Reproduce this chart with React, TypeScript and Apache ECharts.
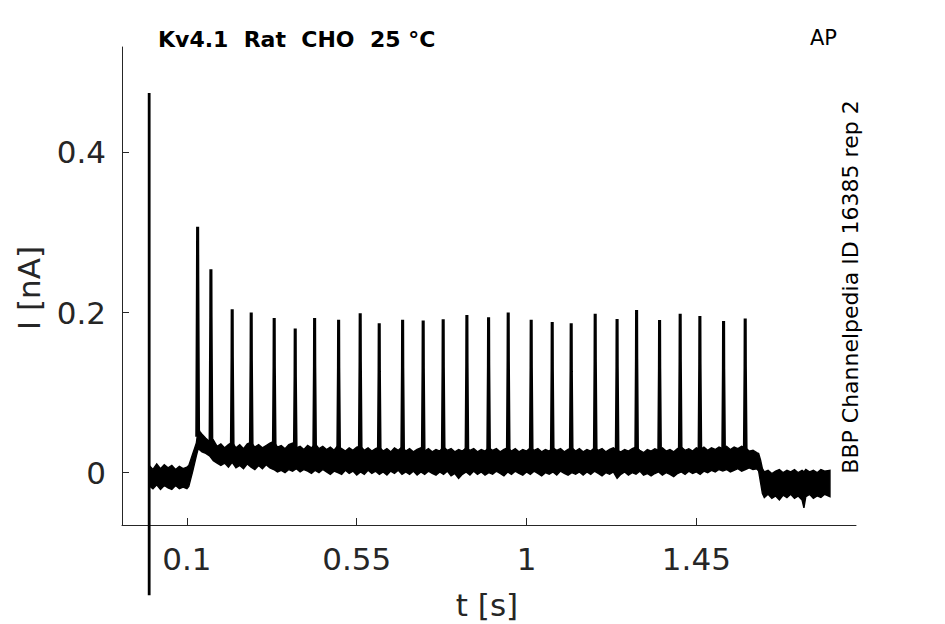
import React, { useEffect, useRef } from "react";
import * as echarts from "echarts";

// Tick positions / labels
const xTicks = [0.1, 0.55, 1, 1.45];
const yTicks = [0, 0.2, 0.4];

// Noise band envelope of the current trace (time in s, current in nA)
const envT = [
  0.002, 0.01, 0.02, 0.03, 0.04, 0.05, 0.06, 0.07, 0.08, 0.09, 0.1,
  0.105, 0.11, 0.115, 0.12, 0.125, 0.13, 0.135, 0.14, 0.15, 0.16, 0.17, 0.18, 0.19, 0.2,
  0.21, 0.22, 0.23, 0.24, 0.25, 0.26, 0.27, 0.28, 0.29, 0.3,
  0.31, 0.32, 0.33, 0.34, 0.35, 0.36, 0.37, 0.38, 0.39, 0.4,
  0.41, 0.42, 0.43, 0.44, 0.45, 0.46, 0.47, 0.48, 0.49, 0.5,
  0.51, 0.52, 0.53, 0.54, 0.55, 0.56, 0.57, 0.58, 0.59, 0.6,
  0.61, 0.62, 0.63, 0.64, 0.65, 0.66, 0.67, 0.68, 0.69, 0.7,
  0.71, 0.72, 0.73, 0.74, 0.75, 0.76, 0.77, 0.78, 0.79, 0.8,
  0.81, 0.82, 0.83, 0.84, 0.85, 0.86, 0.87, 0.88, 0.89, 0.9,
  0.91, 0.92, 0.93, 0.94, 0.95, 0.96, 0.97, 0.98, 0.99, 1.0,
  1.01, 1.02, 1.03, 1.04, 1.05, 1.06, 1.07, 1.08, 1.09, 1.1,
  1.11, 1.12, 1.13, 1.14, 1.15, 1.16, 1.17, 1.18, 1.19, 1.2,
  1.21, 1.22, 1.23, 1.24, 1.25, 1.26, 1.27, 1.28, 1.29, 1.3,
  1.31, 1.32, 1.33, 1.34, 1.35, 1.36, 1.37, 1.38, 1.39, 1.4,
  1.41, 1.42, 1.43, 1.44, 1.45, 1.46, 1.47, 1.48, 1.49, 1.5,
  1.51, 1.52, 1.53, 1.54, 1.55, 1.56, 1.57, 1.58, 1.59, 1.6,
  1.61, 1.615, 1.62, 1.625, 1.63, 1.64, 1.65, 1.66, 1.67, 1.68, 1.69, 1.7,
  1.71, 1.72, 1.73, 1.735, 1.74, 1.75, 1.76, 1.77, 1.78, 1.79, 1.804,
];
const envHi = [
  0.008, 0.004, 0.011, 0.005, 0.01, 0.006, 0.009, 0.004, 0.008, 0.005, 0.007,
  0.009, 0.016, 0.023, 0.03, 0.037, 0.055, 0.051, 0.048, 0.043, 0.039, 0.041, 0.033, 0.036, 0.031,
  0.035, 0.038, 0.031, 0.035, 0.03, 0.036, 0.038, 0.032, 0.035, 0.031,
  0.034, 0.037, 0.039, 0.032, 0.034, 0.03, 0.035, 0.037, 0.031, 0.033,
  0.029, 0.034, 0.031, 0.036, 0.03, 0.033, 0.029, 0.032, 0.028, 0.034,
  0.03, 0.027, 0.031, 0.028, 0.032, 0.033, 0.028, 0.031, 0.027, 0.03,
  0.032, 0.027, 0.03, 0.026, 0.031, 0.028, 0.032, 0.027, 0.03, 0.026,
  0.029, 0.031, 0.027, 0.03, 0.026, 0.029, 0.027, 0.032, 0.028, 0.03,
  0.026, 0.029, 0.027, 0.031, 0.028, 0.03, 0.026, 0.029, 0.027, 0.031,
  0.028, 0.03, 0.026, 0.029, 0.031, 0.027, 0.03, 0.026, 0.029, 0.027,
  0.031, 0.028, 0.03, 0.026, 0.029, 0.027, 0.031, 0.028, 0.03, 0.026,
  0.029, 0.031, 0.027, 0.03, 0.026, 0.029, 0.027, 0.031, 0.028, 0.03,
  0.026, 0.029, 0.031, 0.028, 0.026, 0.029, 0.027, 0.03, 0.032, 0.028,
  0.025, 0.029, 0.027, 0.03, 0.028, 0.031, 0.027, 0.029, 0.026, 0.03,
  0.032, 0.028, 0.03, 0.027, 0.031, 0.029, 0.032, 0.028, 0.031, 0.029,
  0.032, 0.03, 0.033, 0.029, 0.032, 0.03, 0.033, 0.031, 0.027, 0.028,
  0.025, 0.024, 0.016, 0.005, 0.001, 0.003, -0.001, 0.002, 0.004, 0.0, 0.003, 0.001,
  0.004, 0.0, 0.003, 0.001, 0.004, 0.001, 0.003, 0.0, 0.004, 0.002, 0.003,
];
const envLo = [
  -0.017, -0.02, -0.015, -0.021, -0.016, -0.019, -0.021, -0.016, -0.02, -0.018, -0.02,
  -0.017, -0.008, 0.001, 0.011, 0.021, 0.03, 0.028, 0.026, 0.024, 0.021, 0.015, 0.012, 0.009, 0.012,
  0.007, 0.013, 0.006, 0.009, 0.005, 0.011, 0.007, 0.004, 0.009, 0.005,
  0.01, 0.006, 0.004, 0.001, 0.003, 0.0, 0.004, 0.002, 0.005, 0.001,
  0.004, 0.002, -0.001, 0.003, 0.0, 0.004, 0.001, -0.002, 0.002, 0.0,
  -0.002, 0.003, -0.001, 0.002, -0.003, 0.001, -0.002, 0.003, -0.001, 0.002,
  -0.002, 0.001, -0.003, 0.002, -0.001, 0.003, -0.002, 0.001, -0.002, 0.002,
  -0.003, 0.001, -0.002, 0.002, -0.001, -0.003, 0.001, -0.002, 0.002, -0.004,
  -0.001, -0.007, -0.002, 0.001, -0.003, 0.002, -0.002, 0.001, -0.003, 0.0,
  -0.002, 0.002, -0.001, -0.004, 0.001, -0.002, 0.002, -0.001, -0.003, 0.001,
  -0.002, 0.002, -0.001, -0.004, 0.0, -0.002, 0.001, -0.003, 0.002, -0.001,
  -0.003, 0.0, -0.002, 0.001, -0.003, 0.001, -0.002, 0.002, -0.001, -0.004,
  0.0, -0.002, 0.001, -0.007, -0.002, 0.001, -0.003, 0.0, -0.002, 0.002,
  -0.003, -0.001, -0.004, -0.001, 0.001, -0.003, 0.0, -0.002, -0.005, -0.001,
  0.001, -0.002, 0.002, -0.001, 0.001, -0.002, 0.002, 0.0, 0.003, 0.001,
  0.004, 0.002, 0.004, 0.001, 0.003, 0.005, 0.002, 0.004, 0.006, 0.004,
  0.005, 0.002, -0.012, -0.026, -0.031, -0.027, -0.032, -0.029, -0.034, -0.028, -0.031, -0.027,
  -0.032, -0.029, -0.034, -0.044, -0.03, -0.027, -0.032, -0.029, -0.031, -0.027, -0.03,
];

// Action-potential-clamp current spikes
const spikeT = [
  0.1284, 0.1636, 0.22, 0.2704, 0.3313, 0.387, 0.4384, 0.502, 0.5592, 0.6096,
  0.6716, 0.7261, 0.7791, 0.8419, 0.8994, 0.9514, 1.0123, 1.068, 1.1183, 1.1819,
  1.2399, 1.2916, 1.3525, 1.4071, 1.4593, 1.5221, 1.5794,
];
const spikePeak = [
  0.307, 0.254, 0.204, 0.2, 0.193, 0.18, 0.193, 0.191, 0.199, 0.1865,
  0.191, 0.19, 0.1915, 0.197, 0.194, 0.2, 0.191, 0.188, 0.1865, 0.1985,
  0.192, 0.203, 0.1905, 0.1985, 0.1955, 0.1895, 0.1925,
];
const spikeBase = [
  0.045, 0.035, 0.025, 0.022, 0.022, 0.02, 0.02, 0.018, 0.018, 0.016,
  0.016, 0.015, 0.015, 0.015, 0.015, 0.015, 0.015, 0.015, 0.015, 0.015,
  0.015, 0.015, 0.015, 0.015, 0.016, 0.017, 0.018,
];

// Stimulus artefact at t = 0
const artefactT = [0, 0];
const artefactI = [-0.153, 0.474];

const titleText = "Kv4.1  Rat  CHO  25 °C";
const protocolText = "AP";
const sideText = "BBP Channelpedia ID 16385 rep 2";
const xName = "t [s]";
const yName = "I [nA]";

export default function App() {
  const ref = useRef<HTMLDivElement>(null);
  useEffect(() => {
    if (!ref.current) return;
    const chart = echarts.init(ref.current, undefined, { renderer: "svg" });
    const spikeData: any[] = [];
    spikeT.forEach((t, i) => {
      spikeData.push([t - 0.0022, spikeBase[i]]);
      spikeData.push([t - 0.0004, spikePeak[i] - 0.06]);
      spikeData.push([t, spikePeak[i]]);
      spikeData.push([t + 0.0004, spikePeak[i] - 0.06]);
      spikeData.push([t + 0.0024, spikeBase[i]]);
      spikeData.push([t + 0.0025, "-"]);
    });
    const font = "DejaVu Sans";
    const tickColor = "#262626";
    chart.setOption({
      animation: false,
      backgroundColor: "#fff",
      grid: { left: 122, right: 89, top: 47, bottom: 99, containLabel: false },
      xAxis: {
        type: "value",
        min: -0.072,
        max: 1.873,
        splitLine: { show: false },
        axisLine: { show: true, onZero: false, lineStyle: { color: tickColor, width: 1 } },
        axisTick: { show: true, inside: true, length: 7, customValues: xTicks, lineStyle: { color: tickColor } },
        axisLabel: {
          customValues: xTicks,
          color: tickColor,
          fontFamily: font,
          fontSize: 31,
          margin: 18,
          formatter: (v: number) => String(v),
        },
      },
      yAxis: {
        type: "value",
        min: -0.0653,
        max: 0.5315,
        splitLine: { show: false },
        axisLine: { show: true, onZero: false, lineStyle: { color: tickColor, width: 1 } },
        axisTick: { show: true, inside: true, length: 7, customValues: yTicks, lineStyle: { color: tickColor } },
        axisLabel: {
          customValues: yTicks,
          color: tickColor,
          fontFamily: font,
          fontSize: 31,
          margin: 16,
          formatter: (v: number) => String(v),
        },
      },
      series: [
        {
          type: "custom",
          data: [[0, 0]],
          clip: false,
          renderItem: (_params: any, api: any) => {
            const up = envT.map((t, i) => api.coord([t, envHi[i]]));
            const lo = envT.map((t, i) => api.coord([t, envLo[i]])).reverse();
            return {
              type: "polygon",
              shape: { points: up.concat(lo) },
              style: { fill: "#000", stroke: "#000", lineWidth: 1.4 },
            };
          },
        },
        {
          type: "line",
          data: spikeData,
          symbol: "none",
          connectNulls: false,
          lineStyle: { color: "#000", width: 3.1 },
          silent: true,
        },
        {
          type: "line",
          data: artefactT.map((t, i) => [t, artefactI[i]]),
          symbol: "none",
          clip: false,
          lineStyle: { color: "#000", width: 2.8 },
          silent: true,
        },
      ],
      graphic: [
        {
          type: "text",
          left: 158,
          top: 28,
          style: { text: titleText, fontFamily: font, fontWeight: "bold", fontSize: 22, fill: "#000" },
        },
        {
          type: "text",
          left: 810,
          top: 27,
          style: { text: protocolText, fontFamily: font, fontSize: 21, fill: "#000" },
        },
        {
          type: "text",
          x: 850,
          y: 287,
          rotation: Math.PI / 2,
          style: {
            text: sideText,
            fontFamily: font,
            fontSize: 22,
            fill: "#000",
            align: "center",
            verticalAlign: "middle",
          },
        },
        {
          type: "text",
          x: 29,
          y: 288,
          rotation: Math.PI / 2,
          style: {
            text: yName,
            fontFamily: font,
            fontSize: 31,
            fill: tickColor,
            align: "center",
            verticalAlign: "middle",
          },
        },
        {
          type: "text",
          x: 487,
          y: 605,
          style: {
            text: xName,
            fontFamily: font,
            fontSize: 31,
            fill: tickColor,
            align: "center",
            verticalAlign: "middle",
          },
        },
      ],
    });
    return () => chart.dispose();
  }, []);
  return (
    <div
      ref={ref}
      style={{ position: "fixed", left: 0, top: 0, width: 945, height: 624, background: "#fff" }}
    />
  );
}
